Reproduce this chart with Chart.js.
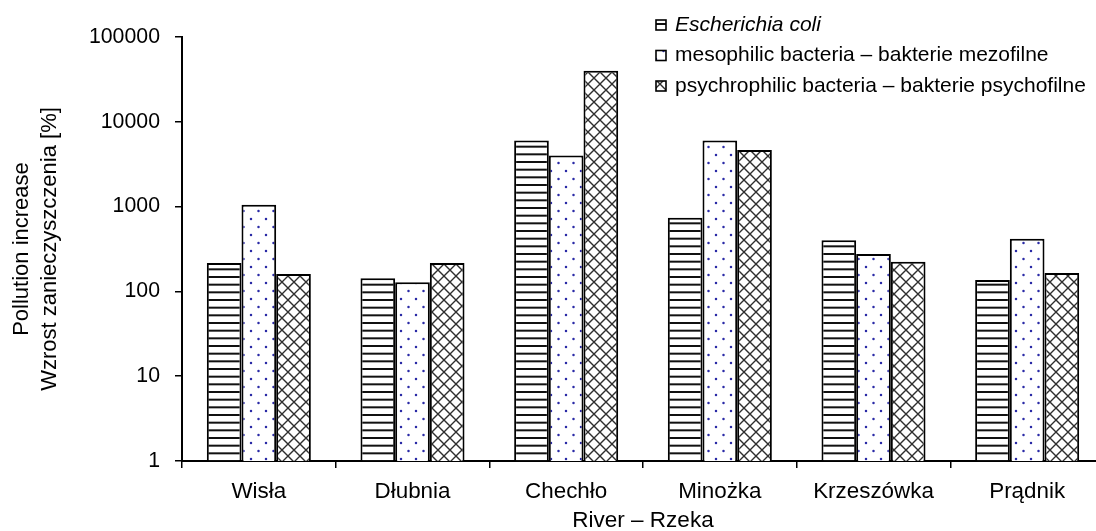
<!DOCTYPE html>
<html>
<head>
<meta charset="utf-8">
<script src="https://cdn.jsdelivr.net/npm/chart.js@4/dist/chart.umd.min.js"></script>
<style>
  html, body { margin: 0; padding: 0; background: #fff; overflow: hidden; width: 1096px; height: 531px; }
  #wrap { position: relative; width: 1104px; height: 531px; }
</style>
</head>
<body>
<div id="wrap"><canvas id="c" width="1104" height="531"></canvas></div>
<script>
// Rivers and measured pollution increase [%] for each bacterial group
const rivers = ['Wisła', 'Dłubnia', 'Chechło', 'Minożka', 'Krzeszówka', 'Prądnik'];
const seriesNames = [
  'Escherichia coli',
  'mesophilic bacteria – bakterie mezofilne',
  'psychrophilic bacteria – bakterie psychofilne'
];
const eColi = [216, 143, 6000, 740, 400, 136];
const mesophilic = [1050, 128, 4000, 6000, 276, 417];
const psychrophilic = [160, 216, 40000, 4650, 224, 165];
const yTickValues = [1, 10, 100, 1000, 10000, 100000];

const FONT = '"Liberation Sans", Arial, sans-serif';
const canvas = document.getElementById('c');
const ctx = canvas.getContext('2d');

// Fill patterns: horizontal stripes, staggered dots, cross-hatch
function makeTile(w, h, draw) {
  const t = document.createElement('canvas');
  t.width = w; t.height = h;
  const g = t.getContext('2d');
  g.fillStyle = '#fff';
  g.fillRect(0, 0, w, h);
  draw(g);
  return ctx.createPattern(t, 'repeat');
}
const stripes = makeTile(4, 23, g => {
  g.fillStyle = '#111';
  [0, 7.67, 15.33].forEach(y => g.fillRect(0, y, 4, 2));
});
const dots = makeTile(15, 16, g => {
  g.fillStyle = '#2a2aa6';
  [[3.5, 3], [11, 11]].forEach(([x, y]) => {
    g.beginPath(); g.arc(x, y, 1.25, 0, Math.PI * 2); g.fill();
  });
});
const cross = makeTile(12, 12, g => {
  g.strokeStyle = '#2e2e2e';
  g.lineWidth = 1.4;
  g.beginPath();
  g.moveTo(-1, -1); g.lineTo(13, 13);
  g.moveTo(13, -1); g.lineTo(-1, 13);
  g.stroke();
});
const fills = [stripes, dots, cross];

// Legend drawn in the upper right of the plot
const legendPlugin = {
  id: 'patternLegend',
  afterDraw(chart) {
    const c = chart.ctx;
    c.save();
    chart.data.datasets.forEach((ds, i) => {
      const y = 25 + i * 30.5;
      c.fillStyle = ds.backgroundColor;
      c.fillRect(656, y - 5, 10, 10);
      c.strokeStyle = '#000';
      c.lineWidth = 1.6;
      c.strokeRect(656, y - 5, 10, 10);
      c.fillStyle = '#000';
      c.textBaseline = 'middle';
      c.textAlign = 'left';
      c.font = (i === 0 ? 'italic ' : '') + '21px ' + FONT;
      c.fillText(ds.label, 675, y);
    });
    c.restore();
  }
};

new Chart(ctx, {
  type: 'bar',
  data: {
    labels: rivers,
    datasets: [eColi, mesophilic, psychrophilic].map((vals, i) => ({
      label: seriesNames[i],
      data: vals,
      backgroundColor: fills[i],
      borderColor: '#000',
      borderWidth: 2,
      categoryPercentage: 0.677,
      barPercentage: 1
    }))
  },
  options: {
    responsive: false,
    animation: false,
    layout: { padding: { top: 37, left: 0, right: 0, bottom: 0 } },
    plugins: { legend: { display: false }, tooltip: { enabled: false } },
    scales: {
      x: {
        type: 'category',
        grid: { offset: true, drawOnChartArea: false, drawTicks: true, tickLength: 7, color: '#000', lineWidth: 1.5 },
        border: { display: true, color: '#000', width: 2 },
        ticks: { font: { family: FONT, size: 22.4 }, color: '#000', padding: 10, maxRotation: 0 },
        title: {
          display: true, text: 'River – Rzeka', color: '#000',
          font: { family: FONT, size: 22.5, lineHeight: 20 / 22.5 },
          padding: { top: 0, bottom: 0 }
        },
        afterFit(scale) { scale.height = 70; }
      },
      y: {
        type: 'logarithmic',
        min: 1,
        max: 100000,
        grid: { drawOnChartArea: false, drawTicks: true, tickLength: 7, color: '#000', lineWidth: 1.5 },
        border: { display: true, color: '#000', width: 2 },
        afterBuildTicks(scale) { scale.ticks = yTickValues.map(v => ({ value: v })); },
        ticks: { font: { family: FONT, size: 21.3 }, color: '#000', padding: 15, callback: v => String(v) },
        title: {
          display: true,
          text: ['Pollution increase', 'Wzrost zanieczyszczenia [%]'],
          color: '#000',
          font: { family: FONT, size: 22, lineHeight: 28 / 22 },
          padding: { top: 8, bottom: 0 }
        },
        afterFit(scale) { scale.width = 182; }
      }
    }
  },
  plugins: [legendPlugin]
});
</script>
</body>
</html>
